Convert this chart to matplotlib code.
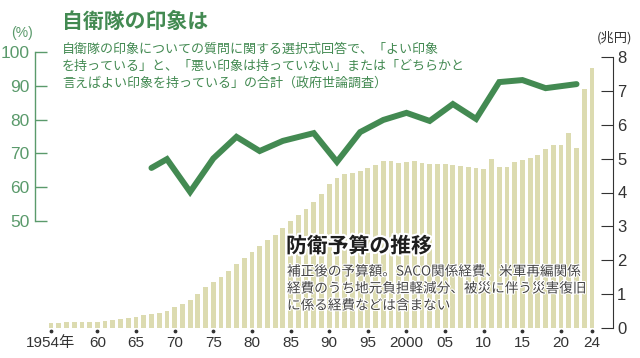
import matplotlib
matplotlib.use('Agg')
import matplotlib.pyplot as plt
import matplotlib.patheffects as pe
import matplotlib.transforms as mtransforms
from matplotlib import font_manager

# ---------------- data ----------------
budget_years = list(range(1954, 2025))
budget_values = [0.16, 0.16, 0.18, 0.18, 0.18, 0.18, 0.19, 0.22, 0.25, 0.27,
                 0.30, 0.33, 0.37, 0.41, 0.44, 0.51, 0.61, 0.71, 0.83, 0.99,
                 1.22, 1.37, 1.51, 1.69, 1.88, 2.08, 2.25, 2.42, 2.60, 2.76,
                 2.94, 3.16, 3.33, 3.50, 3.71, 3.97, 4.24, 4.42, 4.56, 4.59,
                 4.63, 4.71, 4.82, 4.92, 4.92, 4.87, 4.89, 4.92, 4.86, 4.84,
                 4.85, 4.83, 4.81, 4.78, 4.76, 4.73, 4.69, 4.98, 4.76, 4.76,
                 4.91, 4.96, 5.02, 5.10, 5.29, 5.39, 5.39, 5.77, 5.30, 7.07,
                 7.69]
survey_years = [1967, 1969, 1972, 1975, 1978, 1981, 1984, 1988, 1991, 1994,
                1997, 2000, 2003, 2006, 2009, 2012, 2015, 2018, 2022]
survey_values = [65.7, 68.3, 58.6, 68.5, 74.9, 70.7, 73.7, 76.0, 67.5, 76.3,
                 79.9, 82.0, 79.6, 84.6, 80.2, 91.1, 91.7, 89.3, 90.5]
xtick_years = [1954, 1960, 1965, 1970, 1975, 1980, 1985, 1990, 1995, 2000,
               2005, 2010, 2015, 2020, 2024]
xtick_labels = ['1954年', '60', '65', '70', '75', '80', '85', '90', '95',
                '2000', '05', '10', '15', '20', '24']
left_ticks = [50, 60, 70, 80, 90, 100]
right_ticks = [0, 1, 2, 3, 4, 5, 6, 7, 8]

title_top = '自衛隊の印象は'
sub_top = ['自衛隊の印象についての質問に関する選択式回答で、「よい印象',
           'を持っている」と、「悪い印象は持っていない」または「どちらかと',
           '言えばよい印象を持っている」の合計（政府世論調査）']
title_bot = '防衛予算の推移'
sub_bot = ['補正後の予算額。SACO関係経費、米軍再編関係',
           '経費のうち地元負担軽減分、被災に伴う災害復旧',
           'に係る経費などは含まない']

# ---------------- styling ----------------
names = {f.name for f in font_manager.fontManager.ttflist}
num_font = 'Liberation Sans Narrow' if 'Liberation Sans Narrow' in names else 'Liberation Sans'
JP = 'Noto Sans CJK JP'
plt.rcParams['font.family'] = [num_font, JP, 'DejaVu Sans']

GREEN = '#438a52'
GREEN_T = '#5a9a6b'
BAR = '#dcdbb0'
DARK = '#333333'

W, H = 640, 358
fig = plt.figure(figsize=(6.4, 3.58), dpi=100)


def fx(px):
    return px / W


def fy(py):
    return 1 - py / H


ax_l, ax_r, ax_t, ax_b = 35, 613, 52, 328
ax = fig.add_axes([fx(ax_l), fy(ax_b), fx(ax_r) - fx(ax_l), fy(ax_t) - fy(ax_b)])
ax.patch.set_visible(False)
ax2 = ax.twinx()

# bars (right axis, 兆円)
ax.bar(budget_years, budget_values, width=0.62, color=BAR, zorder=1)
ax.set_xlim(1951.93, 2026.72)
ax.set_ylim(0, (ax_b - ax_t) / 33.875)
for s in ['left', 'top', 'bottom']:
    ax.spines[s].set_visible(False)
ax.spines['right'].set_visible(True)
ax.spines['right'].set_bounds(0, 8)
ax.spines['right'].set_color(DARK)
ax.spines['right'].set_linewidth(0.8)
ax.yaxis.set_label_position('right')
ax.yaxis.tick_right()
ax.set_yticks(right_ticks)
ax.set_yticklabels([str(v) for v in right_ticks])
ax.tick_params(axis='y', which='both', left=False, labelleft=False,
               right=True, labelright=True, direction='in', length=8.5,
               width=0.8, pad=3, labelsize=12, colors=DARK)
ax.set_xticks(xtick_years)
ax.set_xticklabels(xtick_labels)
ax.tick_params(axis='x', length=0, pad=6, labelsize=11, colors=DARK)

# tick dots under x axis
trans = mtransforms.blended_transform_factory(ax.transData, ax.transAxes)
ax.scatter(xtick_years, [-3.0 / (ax_b - ax_t)] * len(xtick_years), s=3,
           color=DARK, transform=trans, clip_on=False, zorder=3)

# line (left axis, %)
ax2.set_ylim(100 - (ax_b - ax_t) / 3.38, 100)
ax2.plot(survey_years, survey_values, color=GREEN, lw=4.3,
         solid_capstyle='round', solid_joinstyle='miter', zorder=5)
for s in ['right', 'top', 'bottom']:
    ax2.spines[s].set_visible(False)
ax2.spines['left'].set_visible(True)
ax2.spines['left'].set_bounds(50, 100)
ax2.spines['left'].set_color(GREEN_T)
ax2.spines['left'].set_linewidth(1.0)
ax2.yaxis.set_label_position('left')
ax2.set_yticks(left_ticks)
ax2.set_yticklabels([str(v) for v in left_ticks])
ax2.tick_params(axis='y', which='both', right=False, labelright=False,
                left=True, labelleft=True, direction='in', length=8.6,
                width=1.0, pad=4, labelsize=12.5, colors=GREEN_T)

# unit labels
fig.text(fx(22), fy(33), '(%)', ha='center', va='center', fontsize=10,
         color=GREEN_T)
fig.text(fx(614), fy(38), '(兆円)', ha='center', va='center', fontsize=9.5,
         color=DARK, family=[JP, 'DejaVu Sans'])

# titles
fig.text(fx(62), fy(21), title_top, ha='left', va='center', fontsize=15,
         fontweight='bold', color=GREEN, family=[JP, 'DejaVu Sans'])
for i, line in enumerate(sub_top):
    fig.text(fx(62), fy(49 + 17.3 * i), line, ha='left', va='center',
             fontsize=9.4, color=GREEN, family=[JP, 'DejaVu Sans'])

fig.text(fx(286), fy(246), title_bot, ha='left', va='center', fontsize=15,
         fontweight='bold', color='#1e1e1e', family=[JP, 'DejaVu Sans'],
         path_effects=[pe.withStroke(linewidth=3, foreground='white')])
for i, line in enumerate(sub_bot):
    fig.text(fx(287), fy(271.5 + 17 * i), line, ha='left', va='center',
             fontsize=9.8, color='#444444', family=[JP, 'DejaVu Sans'],
             path_effects=[pe.withStroke(linewidth=1.5, foreground='white')])

fig.savefig('out.png', dpi=100)
